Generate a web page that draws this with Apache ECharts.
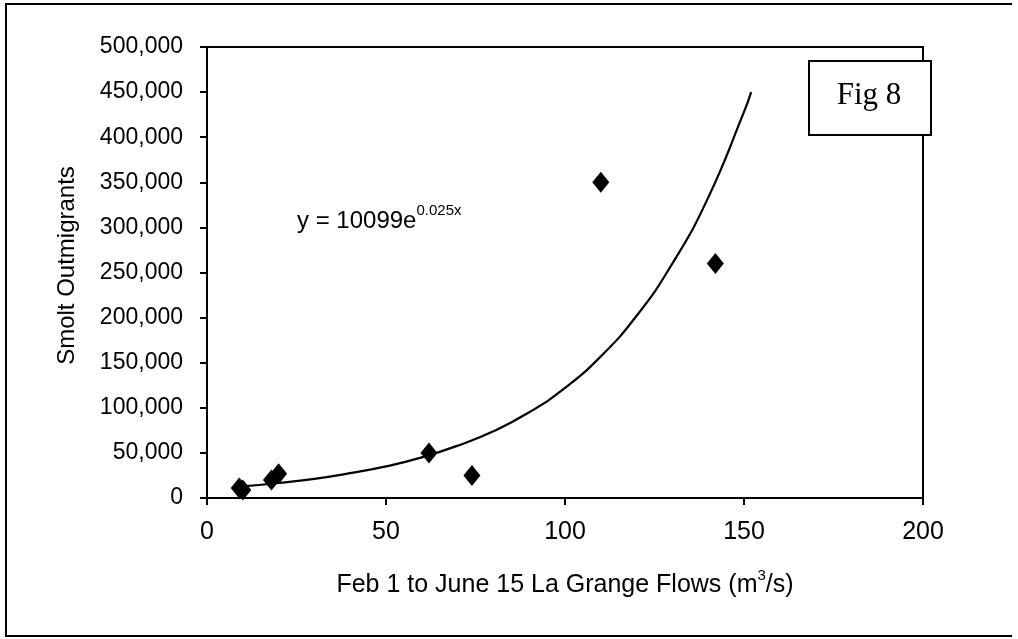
<!DOCTYPE html>
<html><head><meta charset="utf-8">
<script src="https://cdn.jsdelivr.net/npm/echarts@6/dist/echarts.min.js"></script>
<style>html,body{margin:0;padding:0;background:#fff}#c{width:1018px;height:639px}</style>
</head><body><div id="c"></div>
<script>
// Observed points (flow m3/s, smolt outmigrants)
var flows = [9, 10, 18, 20, 62, 74, 110, 142];
var smolts = [11000, 9000, 20000, 27000, 50000, 25000, 350000, 260000];
// Trendline points
var trendX = [9, 20, 30, 40, 50, 60, 70, 80, 90, 100, 110, 120, 130, 140, 150, 152];
var trendY = [12600, 16600, 21200, 27500, 35000, 45000, 58000, 74000, 95000, 122000, 157000, 202000, 260000, 333000, 428000, 450000];
var xTicks = [0, 50, 100, 150, 200];
var yMax = 500000;

var chart = echarts.init(document.getElementById('c'));
var font = '"Liberation Sans", Arial, sans-serif';
chart.setOption({
  animation: false,
  backgroundColor: '#fff',
  grid: {left: 207, right: 95, top: 47, bottom: 141, show: true, borderColor: '#000', borderWidth: 2, backgroundColor: 'transparent'},
  xAxis: {
    type: 'value', min: xTicks[0], max: xTicks[xTicks.length - 1], interval: 50,
    axisLine: {show: true, onZero: false, lineStyle: {color: '#000', width: 2}},
    axisTick: {show: true, inside: false, length: 7, lineStyle: {color: '#000', width: 2}},
    splitLine: {show: false},
    axisLabel: {color: '#000', fontFamily: font, fontSize: 25, margin: 22},
    name: '{a|Feb 1 to June 15 La Grange Flows (m}{s|3}{a|/s)}',
    nameLocation: 'middle', nameGap: 70,
    nameTextStyle: {rich: {
      a: {color: '#000', fontFamily: font, fontSize: 25, verticalAlign: 'bottom', lineHeight: 30},
      s: {color: '#000', fontFamily: font, fontSize: 15, verticalAlign: 'top', lineHeight: 30, padding: [0, 0, 12, 0]}
    }}
  },
  yAxis: {
    type: 'value', min: 0, max: yMax, interval: 50000,
    axisLine: {show: true, lineStyle: {color: '#000', width: 2}},
    axisTick: {show: true, inside: false, length: 7, lineStyle: {color: '#000', width: 2}},
    splitLine: {show: false},
    axisLabel: {color: '#000', fontFamily: font, fontSize: 23, margin: 24,
      formatter: function (v) { return v.toLocaleString('en-US'); }},
    name: 'Smolt Outmigrants', nameLocation: 'middle', nameGap: 128, nameRotate: 90,
    nameTextStyle: {color: '#000', fontFamily: font, fontSize: 24, padding: [0, 0, 0, 14]}
  },
  series: [
    {type: 'line', data: trendX.map(function (x, i) { return [x, trendY[i]]; }),
     smooth: true, showSymbol: false, symbol: 'none',
     lineStyle: {color: '#000', width: 2.2}, z: 2},
    {type: 'scatter', data: flows.map(function (x, i) { return [x, smolts[i]]; }),
     symbol: 'diamond', symbolSize: [17, 21],
     itemStyle: {color: '#000', opacity: 1}, z: 3}
  ],
  graphic: [
    {type: 'polyline', shape: {points: [[1012, 4], [6, 4], [6, 636], [1012, 636]]}, style: {fill: 'none', stroke: '#000', lineWidth: 2}, silent: true},
    {type: 'rect', shape: {x: 809, y: 61, width: 122, height: 74}, style: {fill: '#fff', stroke: '#000', lineWidth: 2}, z: 10},
    {type: 'text', x: 869, y: 96, style: {text: 'Fig 8', font: '31px "Liberation Serif", "Times New Roman", serif', fill: '#000', align: 'center', verticalAlign: 'middle'}, z: 11},
    {type: 'text', x: 297, y: 218, style: {
      text: '{a|y = 10099e}{s|0.025x}',
      rich: {
        a: {font: '24px "Liberation Sans", Arial, sans-serif', fill: '#000', verticalAlign: 'bottom', lineHeight: 30},
        s: {font: '15px "Liberation Sans", Arial, sans-serif', fill: '#000', verticalAlign: 'top', lineHeight: 30, padding: [0, 0, 14, 0]}
      },
      verticalAlign: 'middle'}, z: 11}
  ]
});
</script></body></html>
